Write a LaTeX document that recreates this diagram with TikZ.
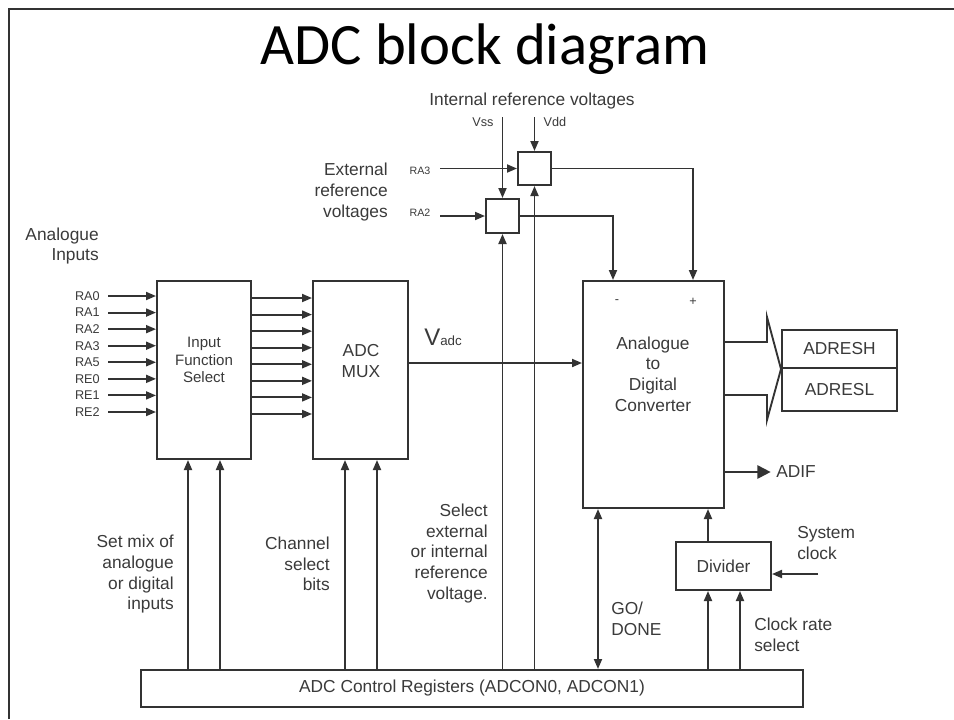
\documentclass[tikz,border=0pt]{standalone}
\usepackage{fontspec}
\setmainfont{Liberation Sans}
\newfontfamily\titlefont{Carlito}
\usetikzlibrary{arrows.meta}
\definecolor{linec}{HTML}{333333}
\definecolor{txtc}{HTML}{3A3A3A}
\tikzset{
  box/.style={draw=linec, line width=1.5pt, inner sep=0pt, fill=white, text=txtc, font=\fontsize{13}{15.5}\selectfont, align=center},
  arr/.style={draw=linec, line width=1.4pt, -{Triangle[length=7.5pt,width=6pt]}},
  dblarr/.style={draw=linec, line width=1.4pt, {Triangle[length=7.5pt,width=6pt]}-{Triangle[length=7.5pt,width=6pt]}},
  ln/.style={draw=linec, line width=1.4pt},
  bigarr/.style={draw=linec, line width=1.4pt, -{Triangle[length=10pt,width=10pt]}},
  lbl/.style={text=txtc, font=\fontsize{13}{15.5}\selectfont, inner sep=0pt},
  smalllbl/.style={text=txtc, font=\fontsize{9.5}{11}\selectfont, inner sep=0pt},
  tinylbl/.style={text=txtc, font=\fontsize{8}{9}\selectfont, inner sep=0pt},
}
\begin{document}
\begin{tikzpicture}[x=0.75pt,y=-0.75pt]
\useasboundingbox (0,0) rectangle (954,719);
\draw[draw=linec, line width=1.8pt] (9,719) -- (9,9) -- (954,9);
\node[font=\titlefont\fontsize{44}{50}\selectfont] (title) at (485,49) {ADC block diagram};

% boxes
\node[box, minimum width=70.5pt, minimum height=133.5pt] (ifs) at (204,370) {};
\node[lbl, align=center, font=\fontsize{11.3}{13.2}\selectfont] (ifsT) at (204,360) {Input\\Function\\Select};
\node[box, minimum width=71.25pt, minimum height=133.5pt] (mux) at (360.5,370) {};
\node[lbl, align=center] (muxT) at (361,361) {ADC\\MUX};
\node[box, minimum width=105.75pt, minimum height=170.25pt] (adc) at (653.5,394.5) {};
\node[lbl, align=center] (adcT) at (653,374) {Analogue\\to\\Digital\\Converter};
\node[smalllbl] (minus) at (617,302) {-};
\node[smalllbl] (plus) at (693,302) {+};
\node[box, minimum width=86.25pt, minimum height=28.5pt] (adresh) at (839.5,349) {ADRESH};
\node[box, minimum width=86.25pt, minimum height=32.25pt] (adresl) at (839.5,389.5) {ADRESL};
\node[box, minimum width=24.75pt, minimum height=24.75pt] (refB) at (534.5,168.5) {};
\node[box, minimum width=24.75pt, minimum height=25.5pt] (refA) at (502.5,216) {};
\node[box, minimum width=71.25pt, minimum height=36pt] (div) at (723.5,566) {Divider};
\node[box, minimum width=496.5pt, minimum height=27.75pt] (ctrl) at (472,688.5) {ADC Control Registers (ADCON0, ADCON1)};

% analogue inputs
\node[lbl, align=right, anchor=east] (ain) at (99,246) {Analogue\\Inputs};
\foreach \name [count=\i from 0] in {RA0,RA1,RA2,RA3,RA5,RE0,RE1,RE2} {
  \pgfmathsetmacro\yy{296+16.57*\i}
  \node[smalllbl, anchor=east] (in\i) at (100,\yy) {\name};
  \draw[arr] ([xshift=6pt]in\i.east) -- (in\i.east -| ifs.west);
}
\foreach \i in {0,...,7} {
  \pgfmathsetmacro\yy{298+16.57*\i}
  \draw[arr] (ifs.east |- 0,\yy) -- (mux.west |- 0,\yy);
}

% Vadc
\draw[arr] (mux.east |- 0,363) -- (adc.west |- 0,363);
\node[text=txtc, anchor=base west, inner sep=0pt] (vadc) at (424,345) {\fontsize{18}{18}\selectfont V\fontsize{10}{10}\selectfont adc};

% reference voltages
\node[lbl] (intref) at (532,101) {Internal reference voltages};
\node[smalllbl] (vssL) at (483,122) {Vss};
\node[smalllbl] (vddL) at (555,122) {Vdd};
\coordinate (vssTop) at (502.5,117);
\coordinate (vddTop) at (534.5,117);
\draw[arr] (vssTop) -- (refA.north);
\draw[arr] (vddTop) -- (refB.north);
\node[lbl, align=right, anchor=east] (extref) at (388,192) {External\\reference\\voltages};
\node[tinylbl] (ra3) at (420,171) {RA3};
\node[tinylbl] (ra2) at (420,213) {RA2};
\coordinate (ra3s) at (440,168.5);
\coordinate (ra2s) at (440,216);
\draw[arr] (ra3s) -- (refB.west);
\draw[arr] (ra2s) -- (refA.west);
\draw[arr] (refB.east) -| (adc.north -| 693,0);
\draw[arr] (refA.east) -| (adc.north -| 613,0);
\draw[arr] (ctrl.north -| refA.south) -- (refA.south);
\draw[arr] (ctrl.north -| refB.south) -- (refB.south);

% outputs
\draw[ln] (adc.east |- 0,342) -- (767,342) -- (767,317) -- (adresh.south west) -- (767,420) -- (767,395) -- (adc.east |- 0,395);
\node[lbl, anchor=west] (adif) at (776,472) {ADIF};
\draw[bigarr] (adc.east |- adif.west) -- ([xshift=-4pt]adif.west);

% control lines
\draw[arr] (ctrl.north -| 188,0) -- (ifs.south -| 188,0);
\draw[arr] (ctrl.north -| 220,0) -- (ifs.south -| 220,0);
\draw[arr] (ctrl.north -| 345,0) -- (mux.south -| 345,0);
\draw[arr] (ctrl.north -| 377,0) -- (mux.south -| 377,0);
\draw[dblarr] (ctrl.north -| 598,0) -- (adc.south -| 598,0);
\draw[arr] (div.north -| 708,0) -- (adc.south -| 708,0);
\draw[arr] (ctrl.north -| 708,0) -- (div.south -| 708,0);
\draw[arr] (ctrl.north -| 740,0) -- (div.south -| 740,0);
\coordinate (sysclk) at (818,574);
\draw[arr] (sysclk) -- (div.east |- sysclk);

% labels
\node[lbl, align=right, anchor=east] (setmix) at (174,574.5) {Set mix of\\analogue\\or digital\\inputs};
\node[lbl, align=right, anchor=east] (chsel) at (330,564) {Channel\\select\\bits};
\node[lbl, align=right, anchor=east] (selref) at (488,553.5) {Select\\external\\or internal\\reference\\voltage.};
\node[lbl, align=left, anchor=west] (godone) at (611,619) {GO/\\DONE};
\node[lbl, align=left, anchor=west] (clkrate) at (754,635) {Clock rate\\select};
\node[lbl, align=left, anchor=west] (sysclkL) at (797,543) {System\\clock};
\end{tikzpicture}
\end{document}
